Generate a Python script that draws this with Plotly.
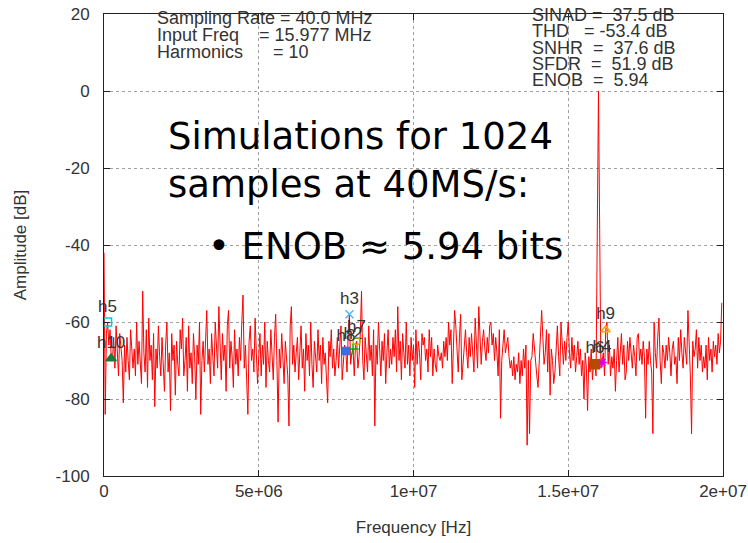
import numpy as np
import plotly.graph_objects as go

# ---------------- data ----------------
fs_hz = 40.0e6
n_samples = 1024
input_freq_hz = 15.977e6
n_harmonics = 10

amplitude_db = [
    -42, -84, -63, -60, -66, -62, -69.5, -70, -64, -72, -61, -67, -74, -63, -68, -70,
    -81, -66, -73, -64, -70, -75, -62, -69, -72, -67, -74, -60, -71, -65, -70, -76,
    -52, -68, -73, -62, -77, -59, -70, -66, -75, -63, -82, -67, -72, -61, -69, -74,
    -64, -71, -78, -66, -60, -73, -68, -83, -63, -70, -66, -79, -65, -71, -74, -62,
    -67, -59, -74, -70, -64, -78, -61, -72, -68, -76, -63, -69, -80, -66, -71, -60,
    -84, -70, -65, -73, -62, -57, -71, -67, -76, -63, -69, -74, -60, -66, -72, -56,
    -68, -75, -63, -70, -66, -78, -61, -57, -72, -65, -69, -77, -62, -71, -67, -74,
    -64, -70, -60, -53, -72, -66, -75, -84, -65, -61, -70, -67, -73, -59, -68, -76,
    -69, -63, -74, -66, -71, -60, -77, -65, -70, -73, -62, -68, -75, -64, -58, -70,
    -86, -67, -72, -63, -70, -76, -65, -69, -74, -87, -61, -56, -71, -66, -73, -68,
    -64, -75, -69, -61, -72, -67, -78, -63, -70, -66, -74, -60, -71, -77, -65, -69,
    -73, -62, -70, -66, -76, -64, -71, -68, -75, -81, -65, -69, -62, -72, -67, -74,
    -70, -64, -72, -67, -61, -75, -69, -66, -67.5, -73, -63, -58, -71, -68, -67, -74,
    -66, -65, -72, -69, -63, -52, -70, -75, -64, -68, -73, -61, -70, -66, -74, -62,
    -87, -66, -71, -60, -69, -74, -65, -70, -63, -76, -68, -62, -72, -67, -71, -64,
    -69, -62, -73, -56, -70, -65, -75, -63, -68, -72, -60, -71, -66, -74, -64, -70,
    -66, -77, -62, -71, -65, -68, -75, -63, -66, -64, -70, -67, -73, -62, -69, -64,
    -74, -67, -71, -73, -66, -69, -70, -68, -72, -65, -69, -64, -70, -60, -66, -62,
    -76, -63, -57, -61, -67, -73, -64, -58, -75, -70, -65, -62, -68, -72, -64, -69,
    -63, -68, -73, -59, -66, -72, -56, -63, -71, -65, -62, -67, -70, -64, -68, -61,
    -60, -66, -63, -70, -64, -68, -74, -62, -85, -70, -65, -62, -68, -66, -64, -69,
    -72, -70, -74, -69, -75, -71, -73, -68, -76, -70, -74, -67, -72, -66, -92, -70,
    -89, -70, -69, -63, -67, -72, -74, -77, -70, -66, -57, -64, -71, -68, -62, -73,
    -63, -79, -67, -70, -76, -73, -68, -61, -69, -74, -60, -66, -71, -65, -70, -64,
    -60, -68, -72, -64, -70, -66, -73, -69, -65, -71, -67, -74, -70, -80, -68, -72,
    -83, -69, -73, -67, -75, -70, -71, -74, -32, 0, -36, -72, -70.5, -68, -74, -62,
    -60, -71, -66, -74, -69, -72, -67, -78, -70, -64, -73, -68, -63, -71, -66, -75,
    -73, -65, -70, -64, -68, -72, -66, -69, -74, -64, -63, -70, -67, -71, -65, -69,
    -85, -67, -71, -65, -70, -73, -89, -60, -68, -72, -64, -59, -70, -76, -66, -68,
    -72, -66, -70, -64, -68, -74, -67, -65, -71, -69, -76, -64, -70, -62, -68, -72,
    -64, -68, -71, -57, -66, -74, -89, -65, -69, -67, -62, -72, -64, -70, -66, -73,
    -69, -72, -66, -75, -64, -70, -67, -73, -65, -69, -66, -71, -63, -68, -65, -55,
]

harmonic_names = ["h2", "h3", "h4", "h5", "h6", "h7", "h8", "h9", "h10"]
harmonic_symbols = ["cross-thin-open", "x-thin-open", "asterisk-open", "square-open",
                    "square", "circle-open", "square", "triangle-up-open", "triangle-up"]
harmonic_colors = ["#00b000", "#56b4e9", "#e000e0", "#00d0d0",
                   "#b84a00", "#c8b400", "#3a6ee8", "#ffa500", "#1a7a3a"]
harmonic_sizes = [8, 8, 8, 8, 9, 7, 7, 8, 9]

x_tick_vals = [0, 5e6, 1e7, 1.5e7, 2e7]
x_tick_text = ["0", "5e+06", "1e+07", "1.5e+07", "2e+07"]
y_tick_vals = [-100, -80, -60, -40, -20, 0, 20]
y_tick_text = ["-100", "-80", "-60", "-40", "-20", "0", "20"]

info_left = ["Sampling Rate = 40.0 MHz",
             "Input Freq\u00a0\u00a0\u00a0\u00a0= 15.977 MHz",
             "Harmonics\u00a0\u00a0\u00a0\u00a0\u00a0\u00a0= 10"]
info_right = ["SINAD =\u00a0\u00a037.5 dB",
              "THD\u00a0\u00a0\u00a0= -53.4 dB",
              "SNHR\u00a0\u00a0=\u00a0\u00a037.6 dB",
              "SFDR\u00a0\u00a0=\u00a0\u00a051.9 dB",
              "ENOB\u00a0\u00a0=\u00a0\u00a05.94"]
overlay_lines = ["Simulations for 1024", "samples at 40MS/s:", "\u2022 ENOB \u2248 5.94 bits"]

# ---------------- derived ----------------
amp = np.array(amplitude_db, dtype=float)
bin_hz = fs_hz / n_samples
freqs = np.arange(len(amp)) * bin_hz

h_freq, h_amp = [], []
for k in range(2, n_harmonics + 1):
    f = (k * input_freq_hz) % fs_hz
    if f > fs_hz / 2:
        f = fs_hz - f
    idx = int(round(f / bin_hz))
    h_freq.append(f)
    h_amp.append(amp[idx])

# ---------------- figure ----------------
W, H = 748, 543
L, R, T, B = 104, 723, 14, 476


def px(x):
    return (x - L) / (R - L)


def py(y):
    return (B - y) / (B - T)


fig = go.Figure()
fig.add_trace(go.Scatter(x=freqs, y=amp, mode="lines",
                         line=dict(color="#ff0000", width=1), showlegend=False,
                         hoverinfo="skip"))

for i, name in enumerate(harmonic_names):
    fig.add_trace(go.Scatter(
        x=[h_freq[i]], y=[h_amp[i]], mode="markers+text", text=[name],
        textposition="top center",
        textfont=dict(family="Liberation Sans", size=17, color="#333333"),
        marker=dict(symbol=harmonic_symbols[i], color=harmonic_colors[i],
                    size=harmonic_sizes[i],
                    line=dict(color=harmonic_colors[i], width=1.5)),
        showlegend=False, cliponaxis=False))

grid = dict(showgrid=True, gridcolor="#a0a0a0", griddash="dot", gridwidth=1)
axis_common = dict(showline=True, linecolor="#222222", linewidth=1, mirror="ticks",
                   ticks="inside", ticklen=6, tickcolor="#222222", zeroline=False,
                   automargin=False,
                   tickfont=dict(family="Liberation Sans", size=17, color="#333333"),
                   **grid)

fig.update_xaxes(range=[0, 2e7], tickvals=x_tick_vals, ticktext=x_tick_text,
                 title=dict(text="Frequency [Hz]", standoff=20,
                            font=dict(family="Liberation Sans", size=17, color="#333333")),
                 **axis_common)
fig.update_yaxes(range=[-100, 20], tickvals=y_tick_vals, ticktext=y_tick_text,
                 ticklabelstandoff=10,
                 title=dict(text="Amplitude [dB]", standoff=24,
                            font=dict(family="Liberation Sans", size=17, color="#333333")),
                 **axis_common)

annotations = []
for i, t in enumerate(info_left):
    annotations.append(dict(x=px(155), y=py(18 + 17 * i), xref="paper", yref="paper",
                            text=t, showarrow=False, xanchor="left", yanchor="middle",
                            font=dict(family="Liberation Sans", size=18, color="#333333")))
for i, t in enumerate(info_right):
    annotations.append(dict(x=px(530), y=py(14.5 + 16.5 * i), xref="paper", yref="paper",
                            text=t, showarrow=False, xanchor="left", yanchor="middle",
                            font=dict(family="Liberation Sans", size=18, color="#333333")))
overlay_pos = [(166, 136), (166, 185), (206, 246.5)]
for (x0, y0), t in zip(overlay_pos, overlay_lines):
    annotations.append(dict(x=px(x0), y=py(y0), xref="paper", yref="paper",
                            text=t, showarrow=False, xanchor="left", yanchor="middle",
                            font=dict(family="DejaVu Sans", size=37, color="#000000")))

fig.update_layout(width=W, height=H, margin=dict(l=L, r=W - R, t=T, b=H - B),
                  paper_bgcolor="white", plot_bgcolor="white",
                  annotations=annotations)

fig.write_html("out.html")
